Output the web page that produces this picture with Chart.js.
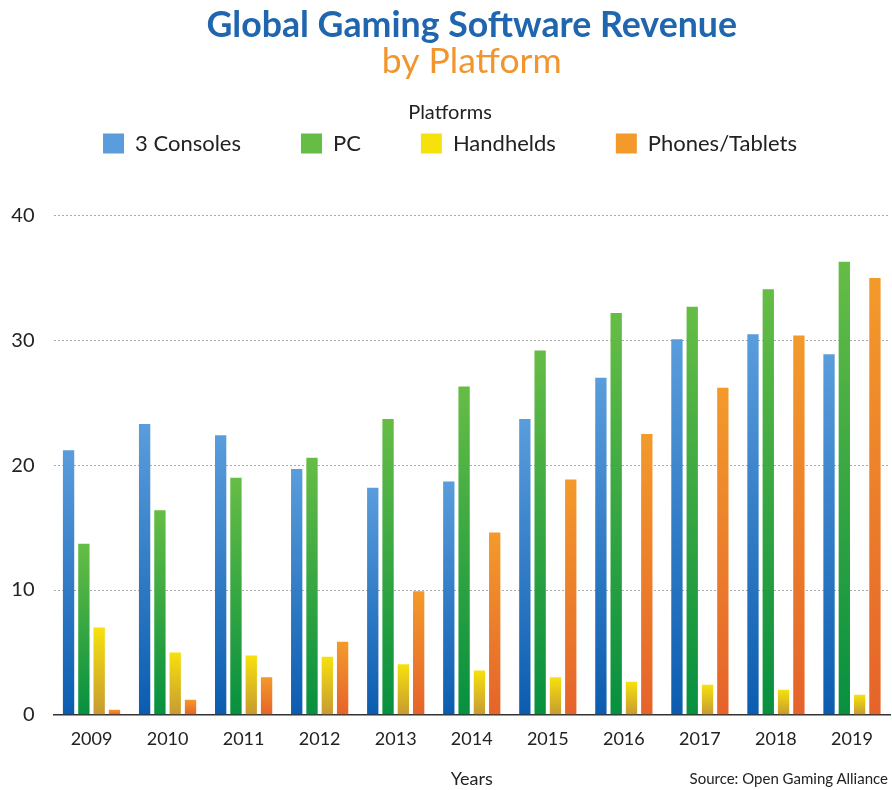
<!DOCTYPE html>
<html>
<head>
<meta charset="utf-8">
<script src="https://cdn.jsdelivr.net/npm/chart.js@4/dist/chart.umd.min.js"></script>
<style>
  html, body { margin: 0; padding: 0; background: #fff; }
  #wrap { position: relative; width: 892px; height: 790px; }
  #source {
    position: absolute; right: 4px; top: 769px;
    font-family: Lato, "Open Sans", sans-serif; font-size: 15px; color: #222;
  }
</style>
</head>
<body>
<div id="wrap">
  <canvas id="gamingChart" width="892" height="790"></canvas>
  <div id="source">Source: Open Gaming Alliance</div>
</div>
<script>
// data
const years = ["2009", "2010", "2011", "2012", "2013", "2014", "2015", "2016", "2017", "2018", "2019"];
const consoles = [21.2, 23.3, 22.4, 19.7, 18.2, 18.7, 23.7, 27.0, 30.1, 30.5, 28.9];
const pc = [13.7, 16.4, 19.0, 20.6, 23.7, 26.3, 29.2, 32.2, 32.7, 34.1, 36.3];
const handhelds = [7.0, 5.0, 4.75, 4.65, 4.05, 3.55, 3.0, 2.65, 2.4, 2.0, 1.6];
const phones = [0.4, 1.2, 3.0, 5.85, 9.9, 14.6, 18.85, 22.5, 26.2, 30.4, 35.0];
const yTicks = [0, 10, 20, 30, 40];

const fontFam = "Lato, 'Open Sans', sans-serif";

// gradient per bar: light at top, dark at bottom
function barGradient(topColor, bottomColor, flatColor) {
  return (context) => {
    const chart = context.chart;
    if (context.type !== "data" || !chart.chartArea) return flatColor;
    const y = chart.scales.y;
    const top = y.getPixelForValue(context.parsed.y);
    const base = y.getPixelForValue(0);
    if (!isFinite(top) || base - top < 1) return flatColor;
    const g = chart.ctx.createLinearGradient(0, top, 0, base);
    g.addColorStop(0, topColor);
    g.addColorStop(1, bottomColor);
    return g;
  };
}

// extra room under the legend
const legendMargin = {
  id: "legendMargin",
  beforeInit(chart) {
    const origFit = chart.legend.fit;
    chart.legend.fit = function fit() {
      origFit.bind(chart.legend)();
      this.height += 51;
    };
  },
};

const ctx = document.getElementById("gamingChart").getContext("2d");
new Chart(ctx, {
  type: "bar",
  data: {
    labels: years,
    datasets: [
      {
        label: "3 Consoles",
        data: consoles,
        backgroundColor: barGradient("#5a9ddc", "#0b5cb0", "#2f7cc6"),
      },
      {
        label: "PC",
        data: pc,
        backgroundColor: barGradient("#66bd45", "#06903f", "#2aa343"),
      },
      {
        label: "Handhelds",
        data: handhelds,
        backgroundColor: barGradient("#f6e10e", "#c79a32", "#e8c81c"),
      },
      {
        label: "Phones/Tablets",
        data: phones,
        backgroundColor: barGradient("#f39a2a", "#e6632a", "#ec7a2a"),
      },
    ],
  },
  options: {
    responsive: false,
    animation: false,
    layout: { padding: { left: 10, right: 2, top: 6, bottom: 0 } },
    datasets: {
      bar: { categoryPercentage: 0.805, barPercentage: 0.74 },
    },
    plugins: {
      title: {
        display: true,
        fullSize: false,
        text: "Global Gaming Software Revenue",
        color: "#1f66ae",
        font: { family: fontFam, size: 35.7, weight: "bold", lineHeight: 1.08 },
        padding: { top: 0, bottom: 0 },
      },
      subtitle: {
        display: true,
        fullSize: false,
        text: "by Platform",
        color: "#f0962d",
        font: { family: fontFam, size: 35.5, lineHeight: 1.1 },
        padding: { top: -3, bottom: 22 },
      },
      legend: {
        position: "top",
        title: {
          display: true,
          text: "Platforms",
          color: "#222",
          font: { family: fontFam, size: 20 },
          padding: { top: 0, bottom: -54 },
        },
        labels: {
          boxWidth: 21,
          boxHeight: 20,
          padding: 60,
          color: "#222",
          font: { family: fontFam, size: 22 },
        },
      },
      tooltip: { enabled: false },
    },
    scales: {
      x: {
        grid: { display: false },
        border: { display: true, color: "#333", width: 1.5 },
        ticks: { color: "#222", font: { family: fontFam, size: 18 }, padding: 6 },
        title: {
          display: true,
          text: "Years",
          color: "#222",
          font: { family: fontFam, size: 18 },
          padding: { top: 12, bottom: 0 },
        },
      },
      y: {
        min: 0,
        max: 40,
        afterBuildTicks: (axis) => {
          axis.ticks = yTicks.map((v) => ({ value: v }));
        },
        afterFit: (axis) => {
          axis.width = 43.5;
        },
        border: { display: false, dash: [2, 2] },
        grid: { color: "#aaa", lineWidth: 1, drawTicks: false },
        ticks: { color: "#222", font: { family: fontFam, size: 20 }, padding: 19 },
      },
    },
  },
  plugins: [legendMargin],
});
</script>
</body>
</html>
